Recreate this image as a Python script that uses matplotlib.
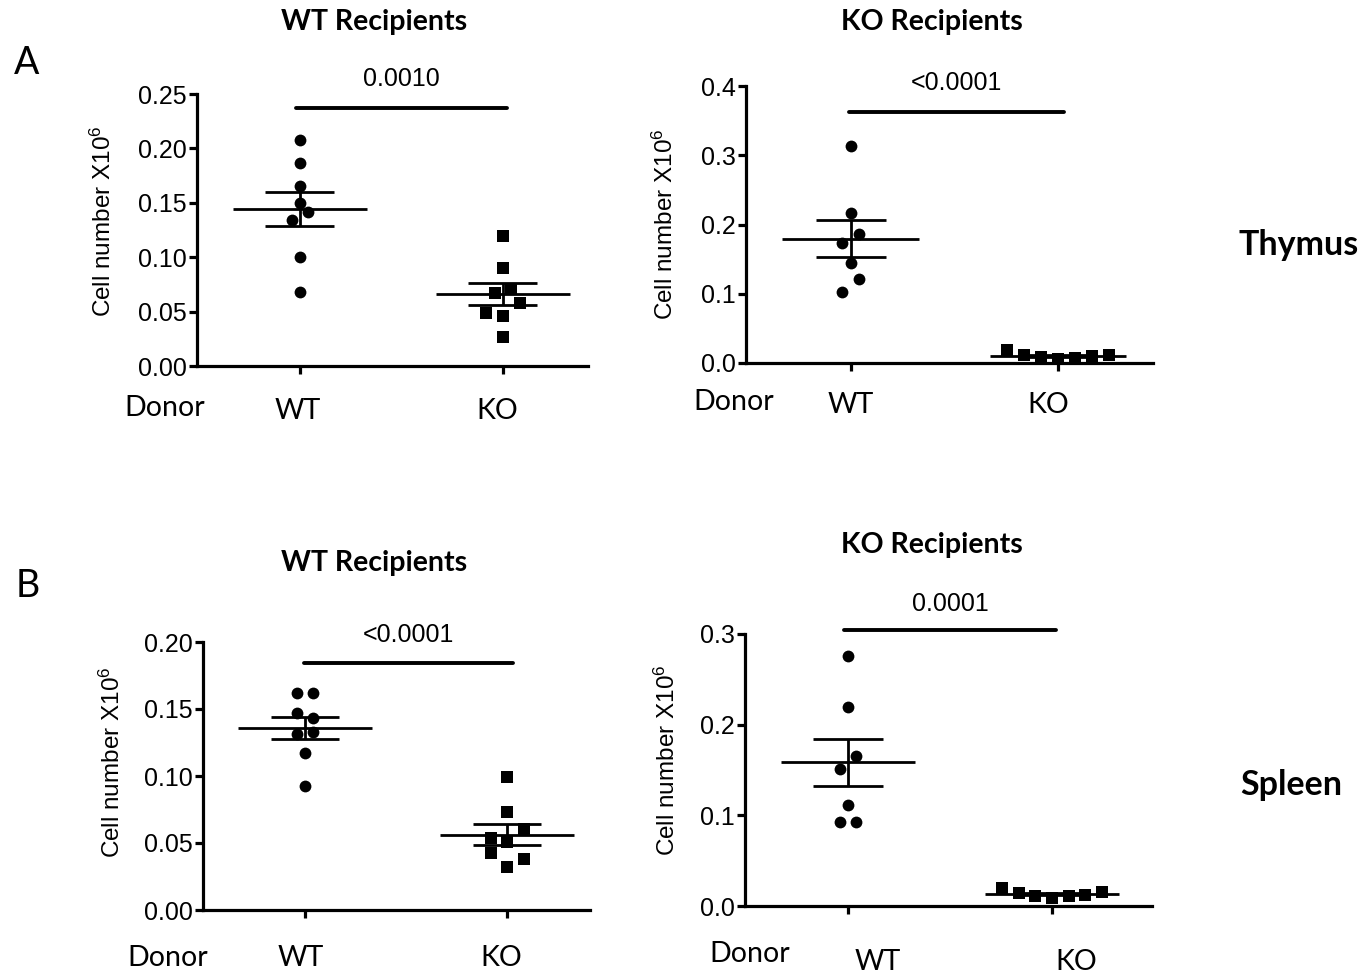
import numpy as np
import matplotlib
matplotlib.use("Agg")
import matplotlib.pyplot as plt
from matplotlib.ticker import FormatStrFormatter

W, H = 1365, 974

# Dane (komórki x10^6)
thy_wtrec_wt = [0.208, 0.187, 0.165, 0.1495, 0.142, 0.134, 0.1005, 0.068]
thy_wtrec_ko = [0.1195, 0.0898, 0.0705, 0.0674, 0.0582, 0.0484, 0.046, 0.027]
thy_korec_wt = [0.314, 0.2163, 0.186, 0.173, 0.145, 0.121, 0.1026]
thy_korec_ko = [0.0188, 0.0116, 0.008, 0.0053, 0.0067, 0.0101, 0.0116]
spl_wtrec_wt = [0.1622, 0.1622, 0.1472, 0.143, 0.1313, 0.133, 0.1174, 0.0928]
spl_wtrec_ko = [0.099, 0.0734, 0.0602, 0.0535, 0.051, 0.0428, 0.038, 0.0323]
spl_korec_wt = [0.2756, 0.2198, 0.1654, 0.1507, 0.1114, 0.093, 0.093]
spl_korec_ko = [0.0202, 0.0147, 0.011, 0.0092, 0.011, 0.0121, 0.0158]

p_values = ["0.0010", "<0.0001", "<0.0001", "0.0001"]
groups = ["WT", "KO"]

# Przesunięcia punktów (w połówkach szerokości markera)
dx_thy_wtrec_wt = [0, 0, 0, 0, 1, -1, 0, 0]
dx_thy_wtrec_ko = [0, 0, 1, -1, 2, -2, 0, 0]
dx_thy_korec_wt = [0, 0, 1, -1, 0, 1, -1]
dx_thy_korec_ko = [-6, -4, -2, 0, 2, 4, 6]
dx_spl_wtrec_wt = [-1, 1, -1, 1, -1, 1, 0, 0]
dx_spl_wtrec_ko = [0, 0, 2, -2, 0, -2, 2, 0]
dx_spl_korec_wt = [0, 0, 1, -1, 0, -1, 1]
dx_spl_korec_ko = [-6, -4, -2, 0, 2, 4, 6]

ARIAL = "Liberation Sans"
CALIBRI = "Lato"


def px(x, y):
    return x / W, 1 - y / H


def add_axes_px(fig, left, top, right, bottom):
    return fig.add_axes([left / W, 1 - bottom / H, (right - left) / W,
                         (bottom - top) / H])


def draw_panel(ax, wt, ko, dx_wt, dx_ko, ylim, yticks, fmt, xlim, bar_y,
               bar_x, ptext, ptext_y):
    step = 0.041
    for i, (vals, dx, mk, ms) in enumerate([(wt, dx_wt, 'o', 8.5),
                                            (ko, dx_ko, 's', 8)]):
        vals = np.array(vals)
        xs = i + np.array(dx) * step
        ax.plot(xs, vals, mk, color='black', ms=ms, mew=0, clip_on=False,
                zorder=3)
        m = vals.mean()
        sem = vals.std(ddof=1) / np.sqrt(len(vals))
        ax.hlines(m, i - 0.33, i + 0.33, color='black', lw=2, zorder=4,
                  clip_on=False)
        ax.hlines([m - sem, m + sem], i - 0.17, i + 0.17, color='black',
                  lw=2, zorder=4, clip_on=False)
        ax.vlines(i, m - sem, m + sem, color='black', lw=2, zorder=4,
                  clip_on=False)

    # Linia istotności
    ax.plot(bar_x, [bar_y, bar_y], color='black', lw=2.8,
            solid_capstyle='round', clip_on=False)
    ax.text(np.mean(bar_x), ptext_y, ptext, ha='center', va='center',
            fontsize=18, family=ARIAL)

    ax.set_xlim(*xlim)
    ax.set_ylim(*ylim)
    ax.set_yticks(yticks)
    ax.yaxis.set_major_formatter(FormatStrFormatter(fmt))
    ax.set_xticks([0, 1])
    ax.set_xticklabels([])
    for s in ['top', 'right']:
        ax.spines[s].set_visible(False)
    for s in ['left', 'bottom']:
        ax.spines[s].set_linewidth(2.3)
    ax.tick_params(axis='both', direction='out', length=6, width=2.3,
                   labelsize=18, pad=1.5)
    for lab in ax.get_yticklabels():
        lab.set_family(ARIAL)


fig = plt.figure(figsize=(W / 100, H / 100), dpi=100)

# A - grasica
ax1 = add_axes_px(fig, 197, 94, 588, 366)
draw_panel(ax1, thy_wtrec_wt, thy_wtrec_ko, dx_thy_wtrec_wt, dx_thy_wtrec_ko,
           (0, 0.25), np.arange(0, 0.26, 0.05), '%.2f', (-0.507, 1.419),
           0.2374, [-0.02, 1.02], p_values[0], 0.2635)

ax2 = add_axes_px(fig, 746, 86, 1153, 363)
draw_panel(ax2, thy_korec_wt, thy_korec_ko, dx_thy_korec_wt, dx_thy_korec_ko,
           (0, 0.4), np.arange(0, 0.41, 0.1), '%.1f', (-0.506, 1.459),
           0.362, [-0.01, 1.03], p_values[1], 0.405)

# B - śledziona
ax3 = add_axes_px(fig, 203, 642, 590, 910)
draw_panel(ax3, spl_wtrec_wt, spl_wtrec_ko, dx_spl_wtrec_wt, dx_spl_wtrec_ko,
           (0, 0.20), np.arange(0, 0.21, 0.05), '%.2f', (-0.505, 1.41),
           0.184, [-0.005, 1.03], p_values[2], 0.2055)

ax4 = add_axes_px(fig, 745, 634, 1152, 906)
draw_panel(ax4, spl_korec_wt, spl_korec_ko, dx_spl_korec_wt, dx_spl_korec_ko,
           (0, 0.3), np.arange(0, 0.31, 0.1), '%.1f', (-0.505, 1.49),
           0.304, [-0.02, 1.02], p_values[3], 0.333)

# Opisy osi Y
ylabel = "Cell number X10$\\mathregular{^6}$"
for (x, y) in [(103, 221), (665, 224), (112, 762), (667, 760)]:
    fig.text(*px(x, y), ylabel, rotation=90, ha='center', va='center',
             fontsize=17.5, family=ARIAL)

# Tytuły
for (x, y, s) in [(374, 22, "WT Recipients"), (932, 22, "KO Recipients"),
                  (374, 563, "WT Recipients"), (932, 545, "KO Recipients")]:
    fig.text(*px(x, y), s, ha='center', va='center', fontsize=20.5,
             fontweight='bold', family=CALIBRI)

# Litery paneli i narządy
fig.text(*px(27, 63), "A", ha='center', va='center', fontsize=27,
         family=CALIBRI)
fig.text(*px(28, 586), "B", ha='center', va='center', fontsize=27,
         family=CALIBRI)
fig.text(*px(1299, 245), "Thymus", ha='center', va='center', fontsize=24.5,
         fontweight='bold', family=CALIBRI)
fig.text(*px(1291, 785), "Spleen", ha='center', va='center', fontsize=24.5,
         fontweight='bold', family=CALIBRI)

# Etykiety dawców
donor_rows = [
    [(165, 408), (298, 411), (497, 411)],
    [(734, 402), (851, 405), (1048, 405)],
    [(168, 958), (301, 958), (501, 958)],
    [(750, 954), (878, 962), (1076, 962)],
]
for row in donor_rows:
    for (x, y), s in zip(row, ["Donor"] + groups):
        fig.text(*px(x, y), s, ha='center', va='center', fontsize=20.5,
                 family=CALIBRI)

plt.savefig('out.png', dpi=100)
